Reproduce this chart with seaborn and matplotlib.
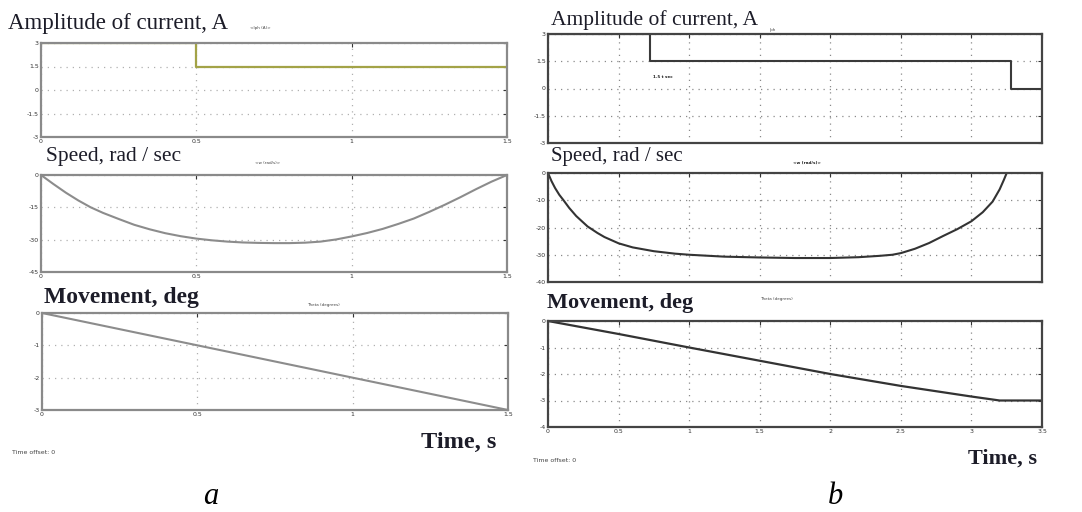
import matplotlib
matplotlib.use("Agg")
import matplotlib.pyplot as plt
import seaborn as sns

# panel a
t_cur_a = [0, 0.5, 1.5]
i_cur_a = [3, 1.5, 1.5]
t_spd_a = [0, 0.04, 0.08, 0.12, 0.16, 0.2, 0.25, 0.3, 0.35, 0.4, 0.45, 0.5, 0.55, 0.6,
           0.65, 0.7, 0.75, 0.8, 0.85, 0.9, 0.95, 1.0, 1.05, 1.1, 1.15, 1.2, 1.25, 1.3,
           1.35, 1.4, 1.45, 1.5]
w_spd_a = [0, -4.2, -8.2, -11.8, -15, -17.6, -20.4, -23.1, -25.2, -27, -28.4, -29.5,
           -30.3, -30.9, -31.3, -31.5, -31.6, -31.6, -31.4, -30.9, -29.9, -28.5, -26.9,
           -25, -22.7, -20.2, -17.1, -13.8, -10.3, -6.6, -3.1, 0]
t_mov_a = [0, 0.5, 1.0, 1.5]
th_mov_a = [0, -1, -2, -3]
xticks_a = [0, 0.5, 1, 1.5]
xlabels_a = ["0", "0.5", "1", "1.5"]

# panel b
t_cur_b = [0, 0.72, 3.28, 3.5]
i_cur_b = [3, 1.5, 0, 0]
t_spd_b = [0, 0.025, 0.05, 0.08, 0.11, 0.15, 0.2, 0.28, 0.35, 0.4, 0.5, 0.6, 0.75, 0.9,
           1.0, 1.25, 1.5, 1.75, 2.0, 2.2, 2.35, 2.44, 2.5, 2.6, 2.7, 2.8, 2.9, 3.0,
           3.08, 3.15, 3.2, 3.23, 3.25]
w_spd_b = [0, -3, -5.5, -8, -10, -12.8, -15.8, -19.6, -22, -23.5, -25.8, -27.3, -28.7,
           -29.6, -30, -30.7, -31, -31.2, -31.2, -30.9, -30.4, -30, -29.4, -27.8, -25.7,
           -23.1, -20.6, -17.7, -14.4, -10.5, -6, -2.5, 0]
t_mov_b = [0, 0.5, 1, 1.5, 2, 2.5, 3, 3.2, 3.5]
th_mov_b = [0, -0.49, -1, -1.5, -2, -2.45, -2.85, -3, -3]
xticks_b = [0, 0.5, 1, 1.5, 2, 2.5, 3, 3.5]
xlabels_b = ["0", "0.5", "1", "1.5", "2", "2.5", "3", "3.5"]

W, H = 1082, 512
sns.set_style("white")
plt.rcParams["font.family"] = ["Liberation Serif", "DejaVu Serif"]
plt.rcParams["axes.unicode_minus"] = False

fig = plt.figure(figsize=(W / 100, H / 100), dpi=100)


def px_axes(l, t, r, b):
    return fig.add_axes([l / W, 1 - b / H, (r - l) / W, (b - t) / H])


def style(ax, xlim, xt, xl, ylim, yt, yl, edge, grid):
    ax.set_xlim(*xlim)
    ax.set_ylim(*ylim)
    ax.set_xticks(xt)
    ax.set_xticklabels(xl)
    ax.set_yticks(yt)
    ax.set_yticklabels(yl)
    ax.set_xlabel("")
    ax.set_ylabel("")
    ax.grid(True, linestyle=(0, (1, 4)), color=grid, linewidth=0.9)
    ax.tick_params(direction="in", length=3, width=0.8, labelsize=4.5, pad=1.5,
                   top=True, right=True, colors="#333333", labelfontfamily="DejaVu Sans")
    for s in ax.spines.values():
        s.set_color(edge)
        s.set_linewidth(1.6)


def txt(x, y, s, size, **kw):
    fig.text(x / W, 1 - y / H, s, fontsize=size, va="center", ha="left", **kw)


# ---- a ----
ax1 = px_axes(41, 43, 507, 137)
sns.lineplot(x=t_cur_a, y=i_cur_a, ax=ax1, color="#a3a347", linewidth=1.6,
             drawstyle="steps-post", estimator=None)
style(ax1, (0, 1.5), xticks_a, xlabels_a, (-3, 3), [-3, -1.5, 0, 1.5, 3],
      ["-3", "-1.5", "0", "1.5", "3"], "#8a8a8a", "#b0b0b0")

ax2 = px_axes(41, 175, 507, 272)
sns.lineplot(x=t_spd_a, y=w_spd_a, ax=ax2, color="#8c8c8c", linewidth=1.5, estimator=None)
style(ax2, (0, 1.5), xticks_a, xlabels_a, (-45, 0), [-45, -30, -15, 0],
      ["-45", "-30", "-15", "0"], "#8a8a8a", "#b0b0b0")

ax3 = px_axes(42, 313, 508, 410)
sns.lineplot(x=t_mov_a, y=th_mov_a, ax=ax3, color="#8c8c8c", linewidth=1.5, estimator=None)
style(ax3, (0, 1.5), xticks_a, xlabels_a, (-3, 0), [-3, -2, -1, 0],
      ["-3", "-2", "-1", "0"], "#8a8a8a", "#b0b0b0")

# ---- b ----
ax4 = px_axes(548, 34, 1042, 143)
sns.lineplot(x=t_cur_b, y=i_cur_b, ax=ax4, color="#3a3a3a", linewidth=1.5,
             drawstyle="steps-post", estimator=None)
style(ax4, (0, 3.5), xticks_b, [""] * len(xticks_b), (-3, 3), [-3, -1.5, 0, 1.5, 3],
      ["-3", "-1.5", "0", "1.5", "3"], "#444444", "#8a8a8a")

ax5 = px_axes(548, 173, 1042, 282)
sns.lineplot(x=t_spd_b, y=w_spd_b, ax=ax5, color="#333333", linewidth=1.5, estimator=None)
style(ax5, (0, 3.5), xticks_b, [""] * len(xticks_b), (-40, 0), [-40, -30, -20, -10, 0],
      ["-40", "-30", "-20", "-10", "0"], "#444444", "#8a8a8a")

ax6 = px_axes(548, 321, 1042, 427)
sns.lineplot(x=t_mov_b, y=th_mov_b, ax=ax6, color="#333333", linewidth=1.6, estimator=None)
style(ax6, (0, 3.5), xticks_b, xlabels_b, (-4, 0), [-4, -3, -2, -1, 0],
      ["-4", "-3", "-2", "-1", "0"], "#444444", "#8a8a8a")

# titles
ink = "#1c1c28"
txt(8, 23, "Amplitude of current, A", 16.5, color=ink)
txt(46, 157, "Speed, rad / sec", 15.5, color=ink)
txt(44, 298, "Movement, deg", 17, color=ink, fontweight="bold")
txt(421, 442, "Time, s", 17.5, color=ink, fontweight="bold")
txt(551, 20, "Amplitude of current, A", 15.5, color=ink)
txt(551, 156, "Speed, rad / sec", 15, color=ink)
txt(547, 303, "Movement, deg", 16, color=ink, fontweight="bold")
txt(968, 459, "Time, s", 16, color=ink, fontweight="bold")

# scope labels
small = dict(color="#444444", family="DejaVu Sans")
txt(250, 28, "<Iph (A)>", 3, **small)
txt(255, 163, "<w (rad/s)>", 3, **small)
txt(307, 305, "Theta (degrees)", 3, **small)
txt(12, 452, "Time offset: 0", 4.5, **small)
txt(770, 30, "Iph", 3, **small)
txt(653, 77, "1.5 t sec", 3, color="#222222", family="DejaVu Sans", fontweight="bold")
txt(793, 163, "<w (rad/s)>", 3, color="#222222", family="DejaVu Sans", fontweight="bold")
txt(760, 299, "Theta (degrees)", 3, **small)
txt(533, 460, "Time offset: 0", 4.5, **small)

# panel letters
txt(203, 497, "a", 22, color="black", style="italic")
txt(828, 497, "b", 22, color="black", style="italic")

plt.savefig("out.png", dpi=100)
